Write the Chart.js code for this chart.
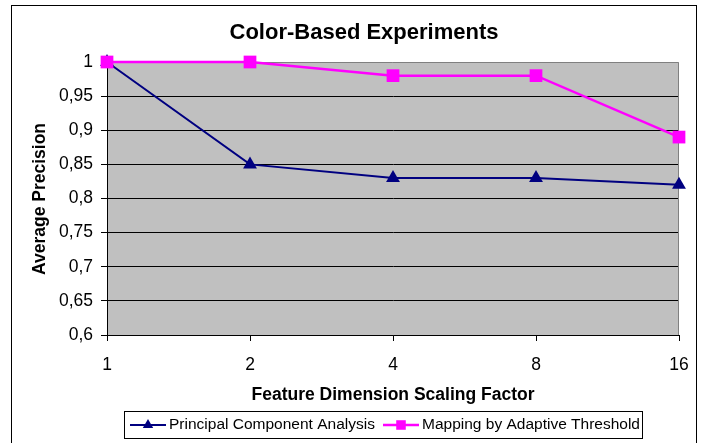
<!DOCTYPE html>
<html>
<head>
<meta charset="utf-8">
<script src="https://cdn.jsdelivr.net/npm/chart.js@4.4.0/dist/chart.umd.min.js"></script>
<style>
  html, body { margin: 0; padding: 0; background: #fff; }
  #wrap { position: relative; width: 703px; height: 443px; overflow: hidden; }
  #frame { position: absolute; left: 11px; top: 5px; width: 686px; height: 460px; border: 1px solid #000; box-sizing: border-box; }
  canvas { position: absolute; left: 0; top: 0; }
</style>
</head>
<body>
<div id="wrap">
  <div id="frame"></div>
  <canvas id="lineChart" width="703" height="443"></canvas>
</div>
<script>
// === Datos ===
const factores = ['1', '2', '4', '8', '16'];
const pca = [1, 0.85, 0.83, 0.83, 0.82];
const umbral = [1, 1, 0.98, 0.98, 0.89];
const yTicks = [0.6, 0.65, 0.7, 0.75, 0.8, 0.85, 0.9, 0.95, 1];

const fuente = '"Liberation Sans", Arial, sans-serif';

// fondo gris + borde del área + títulos + leyenda
const decoracion = {
  id: 'decoracion',
  beforeDraw(chart) {
    const { ctx, chartArea: a } = chart;
    ctx.save();
    ctx.fillStyle = '#c0c0c0';
    ctx.fillRect(a.left, a.top, a.right - a.left, a.bottom - a.top);
    ctx.restore();
  },
  beforeDatasetsDraw(chart) {
    const { ctx, chartArea: a } = chart;
    ctx.save();
    ctx.strokeStyle = '#808080';
    ctx.lineWidth = 1;
    ctx.beginPath();
    ctx.moveTo(a.left, a.top + 0.5);
    ctx.lineTo(a.right - 0.5, a.top + 0.5);
    ctx.lineTo(a.right - 0.5, a.bottom);
    ctx.stroke();
    ctx.restore();
  },
  afterDraw(chart) {
    const { ctx } = chart;
    ctx.save();
    ctx.fillStyle = '#000';
    ctx.textAlign = 'center';
    ctx.textBaseline = 'middle';
    ctx.font = 'bold 22px ' + fuente;
    ctx.fillText('Color-Based Experiments', 364, 33);
    ctx.font = 'bold 17.5px ' + fuente;
    ctx.fillText('Feature Dimension Scaling Factor', 393, 395);
    ctx.translate(40, 199);
    ctx.rotate(-Math.PI / 2);
    ctx.fillText('Average Precision', 0, 0);
    ctx.restore();

    // leyenda
    ctx.save();
    ctx.strokeStyle = '#000';
    ctx.lineWidth = 1;
    ctx.strokeRect(124.5, 411.5, 518, 27);
    ctx.font = '15.5px ' + fuente;
    ctx.textBaseline = 'middle';
    ctx.textAlign = 'left';
    const items = [
      { x: 130, ds: chart.data.datasets[0] },
      { x: 383, ds: chart.data.datasets[1] }
    ];
    items.forEach(it => {
      const y = 425;
      ctx.strokeStyle = it.ds.borderColor;
      ctx.lineWidth = it.ds.borderWidth;
      ctx.beginPath();
      ctx.moveTo(it.x, y);
      ctx.lineTo(it.x + 36, y);
      ctx.stroke();
      ctx.fillStyle = it.ds.borderColor;
      Chart.helpers.drawPoint(ctx, {
        pointStyle: it.ds.pointStyle,
        radius: it.ds.pointRadius * 0.75,
        borderWidth: 0
      }, it.x + 18, y);
      ctx.fillStyle = '#000';
      ctx.fillText(it.ds.label, it.x + 39, y);
    });
    ctx.restore();
  }
};

new Chart(document.getElementById('lineChart'), {
  type: 'line',
  data: {
    labels: factores,
    datasets: [{
      label: 'Principal Component Analysis',
      data: pca,
      borderColor: '#000080',
      backgroundColor: '#000080',
      borderWidth: 2,
      pointStyle: 'triangle',
      pointRadius: 8,
      pointBorderWidth: 0,
      tension: 0,
      order: 2
    }, {
      label: 'Mapping by Adaptive Threshold',
      data: umbral,
      borderColor: '#ff00ff',
      backgroundColor: '#ff00ff',
      borderWidth: 2.5,
      pointStyle: 'rect',
      pointRadius: 9,
      pointBorderWidth: 0,
      tension: 0,
      order: 1
    }]
  },
  options: {
    responsive: false,
    animation: false,
    clip: false,
    layout: { padding: { top: 62, right: 24, bottom: 0, left: 0 } },
    plugins: {
      legend: { display: false },
      title: { display: false },
      tooltip: { enabled: false }
    },
    scales: {
      x: {
        offset: false,
        afterFit(scale) { scale.height = 108; },
        grid: { drawOnChartArea: false, drawTicks: true, tickLength: 6, color: '#000' },
        border: { color: '#000', width: 1 },
        ticks: { color: '#000', padding: 14, font: { family: fuente, size: 17.5 }, maxRotation: 0 }
      },
      y: {
        min: 0.6,
        max: 1,
        afterFit(scale) { scale.width = 107; },
        afterBuildTicks(scale) { scale.ticks = yTicks.map(v => ({ value: v })); },
        grid: {
          color: ctx => (ctx.tick && ctx.tick.value === 1) ? 'rgba(0,0,0,0)' : '#000',
          tickColor: '#000',
          tickLength: 6,
          lineWidth: 1
        },
        border: { color: '#000', width: 1 },
        ticks: {
          color: '#000',
          padding: 8,
          font: { family: fuente, size: 17.5 },
          callback: v => String(Math.round(v * 100) / 100).replace('.', ',')
        }
      }
    }
  },
  plugins: [decoracion]
});
</script>
</body>
</html>
